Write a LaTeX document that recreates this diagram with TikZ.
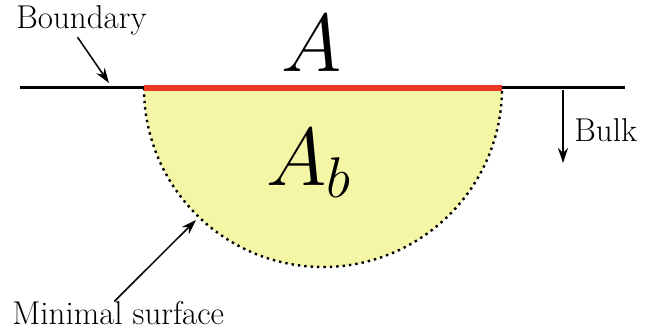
\RequirePackage{fix-cm}
\documentclass[tikz,border=0pt]{standalone}
\usepackage{tikz}
\usetikzlibrary{arrows.meta,positioning,calc}
\definecolor{regionRed}{RGB}{232,58,38}
\definecolor{bulkYellow}{RGB}{244,246,166}

\begin{document}
\begin{tikzpicture}[x=0.5pt,y=-0.5pt,
    labeltext/.style={font=\fontsize{16.5}{18}\selectfont, inner sep=0pt},
    bigmath/.style={font=\fontsize{41}{44}\selectfont, inner sep=0pt},
    pointer/.style={-{Stealth[length=7.5pt,width=5pt]}, line width=0.75pt}]
  \useasboundingbox (0,0) rectangle (646,331);
  % boundary line and the region A on it
  \coordinate (lineL) at (20,88);
  \coordinate (lineR) at (625,88);
  \coordinate (regL) at (144,88);
  \coordinate (regR) at (502,88);
  % minimal surface hanging into the bulk
  \fill[bulkYellow] (regL) arc[start angle=180, end angle=360, radius=89.5pt] -- cycle;
  \draw[dotted, line width=1.2pt] (regL) arc[start angle=180, end angle=360, radius=89.5pt];
  \draw[line width=1.5pt] (lineL) -- (lineR);
  \draw[regionRed, line width=3pt] (regL) -- (regR);
  % labels
  \node[bigmath, anchor=base] (regA) at (312,72) {$A$};
  \node[bigmath, anchor=base west] (regAb) at (266,185) {$A_b$};
  \node[labeltext, anchor=base west] (boundary) at (16,29) {Boundary};
  \node[labeltext, anchor=base west] (bulk) at (574,142) {Bulk};
  \node[labeltext, anchor=base west] (minimal) at (12,324) {Minimal surface};
  % pointers
  \coordinate (boundaryHit) at (109,83);
  \coordinate (bulkTop) at (563,90);
  \coordinate (bulkEnd) at (563,163);
  \coordinate (minimalHit) at (196,220);
  \draw[pointer] ([xshift=-2pt,yshift=-0.5pt]boundary.south) -- (boundaryHit);
  \draw[pointer] (bulkTop) -- (bulkEnd);
  \draw[pointer] ([xshift=-2pt,yshift=-0.5pt]minimal.north) -- (minimalHit);
\end{tikzpicture}
\end{document}
